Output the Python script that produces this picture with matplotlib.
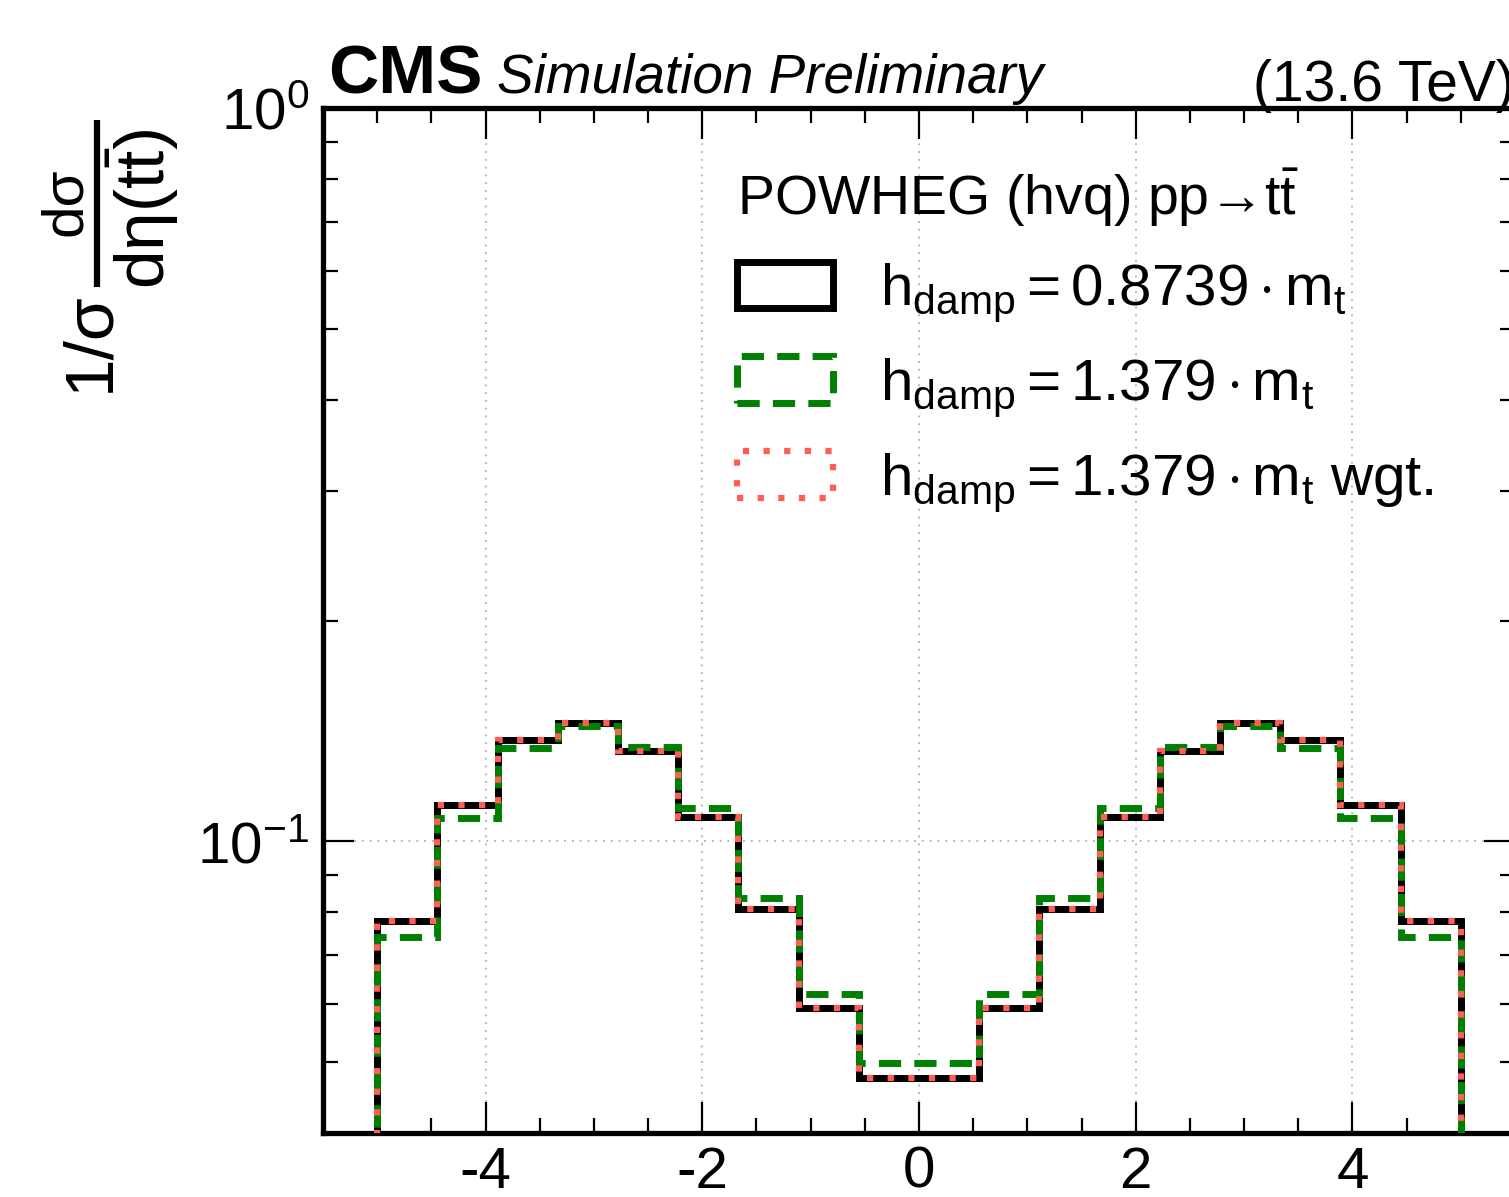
import numpy as np
import matplotlib
matplotlib.use("Agg")
import matplotlib.pyplot as plt
from matplotlib.patches import Patch
from matplotlib.lines import Line2D
from matplotlib.ticker import MultipleLocator, LogLocator, NullFormatter

# =================================================
# Data: normalised eta(ttbar) distribution, 18 bins from -5 to 5
# =================================================
bin_edges = np.linspace(-5, 5, 19)

hdamp_0p8739 = [0.0778, 0.1120, 0.1373, 0.1449, 0.1327, 0.1078, 0.0808, 0.0592, 0.0476,
                0.0476, 0.0592, 0.0808, 0.1078, 0.1327, 0.1449, 0.1373, 0.1120, 0.0778]
hdamp_1p379 = [0.0740, 0.1075, 0.1339, 0.1436, 0.1343, 0.1109, 0.0836, 0.0618, 0.0499,
               0.0499, 0.0618, 0.0836, 0.1109, 0.1343, 0.1436, 0.1339, 0.1075, 0.0740]
hdamp_1p379_wgt = [0.0778, 0.1120, 0.1373, 0.1449, 0.1327, 0.1078, 0.0808, 0.0592, 0.0476,
                   0.0476, 0.0592, 0.0808, 0.1078, 0.1327, 0.1449, 0.1373, 0.1120, 0.0778]

labels = [r"$\mathrm{h_{damp} = 0.8739 \cdot m_{t}}$",
          r"$\mathrm{h_{damp} = 1.379 \cdot m_{t}}$",
          r"$\mathrm{h_{damp} = 1.379 \cdot m_{t}}$ wgt."]
legend_title = "POWHEG (hvq) pp\u2192t$\\mathrm{\\bar{t}}$"

# =================================================
# Style
# =================================================
plt.rcParams["font.family"] = ["Liberation Sans", "DejaVu Sans"]
plt.rcParams["mathtext.fontset"] = "custom"
plt.rcParams["mathtext.rm"] = "Liberation Sans"
plt.rcParams["mathtext.it"] = "Liberation Sans:italic"
plt.rcParams["mathtext.bf"] = "Liberation Sans:bold"
plt.rcParams["axes.unicode_minus"] = False
plt.rcParams["font.size"] = 42

W, H = 1509, 1197
fig = plt.figure(figsize=(W / 100, H / 100), dpi=100)
ax_l, ax_r, ax_t, ax_b = 323, 1515, 108, 1133
ax = fig.add_axes([ax_l / W, (H - ax_b) / H, (ax_r - ax_l) / W, (ax_b - ax_t) / H])

lw = 5.0
styles = [dict(color="black", lw=lw, linestyle="-"),
          dict(color="green", lw=lw, linestyle=(0, (3.2, 1.9))),
          dict(color="#ff5e57", lw=lw * 0.9, linestyle=(0, (1.0, 2.3)))]
series = [hdamp_0p8739, hdamp_1p379, hdamp_1p379_wgt]

for i, (vals, st) in enumerate(zip(series, styles)):
    ax.stairs(vals, bin_edges, baseline=1e-4, zorder=3 + i, **st)

ax.set_yscale("log")
ax.set_xlim(-5.5, 5.5)
ax.set_ylim(0.04, 1.0)

ax.xaxis.set_major_locator(MultipleLocator(2))
ax.xaxis.set_minor_locator(MultipleLocator(0.5))
ax.yaxis.set_major_locator(LogLocator(base=10))
ax.yaxis.set_minor_locator(LogLocator(base=10, subs=np.arange(2, 10)))
ax.yaxis.set_minor_formatter(NullFormatter())

ax.tick_params(which="both", direction="in", top=True, right=True, width=1.6)
ax.tick_params(which="major", length=22, pad=12)
ax.tick_params(axis="x", which="major", pad=9)
ax.tick_params(axis="y", which="major", pad=10)
ax.tick_params(which="minor", length=11)
for s in ax.spines.values():
    s.set_linewidth(3.8)

ax.grid(True, which="major", linestyle=(0, (1, 3)), color="#b8b8b8", lw=1.4, zorder=0)

# legend with open boxes
handles = [Patch(facecolor="none", edgecolor=st["color"], linewidth=st["lw"],
                 linestyle=st["linestyle"]) for st in styles]
leg = ax.legend(handles, labels, loc="upper left", bbox_to_anchor=(0.323, 0.971),
                frameon=False, title=legend_title, title_fontsize=40, fontsize=42,
                handlelength=1.65, handleheight=0.85, handletextpad=0.8,
                labelspacing=0.55, borderpad=0, alignment="left")

# y label, ROOT-style: 1/sigma dsigma / deta(ttbar), built from pieces
def fx(px):
    return px / W

def fy(py):
    return (H - py) / H

lab_kw = dict(rotation=90, rotation_mode="anchor", va="baseline")
fig.text(fx(108), fy(392), "1/\u03c3", ha="left", fontsize=50, **lab_kw)
fig.text(fx(81), fy(202), "d\u03c3", ha="center", fontsize=42, **lab_kw)
fig.text(fx(165), fy(289), "d\u03b7(t$\\mathrm{\\bar{t}}$)", ha="left", fontsize=50, **lab_kw)
fig.add_artist(Line2D([fx(97), fx(97)], [fy(120), fy(287)], transform=fig.transFigure,
                      color="black", lw=4.5, solid_capstyle="butt"))

# CMS labels
ax.text(0.004, 1.0146, "CMS", transform=ax.transAxes, fontsize=50,
        fontweight="bold", ha="left", va="baseline")
ax.text(0.146, 1.0146, "Simulation Preliminary", transform=ax.transAxes,
        fontsize=39.5, fontstyle="italic", ha="left", va="baseline")
ax.text(1.0, 1.0068, "(13.6 TeV)", transform=ax.transAxes, fontsize=41,
        ha="right", va="baseline")

fig.savefig("out.png", dpi=100)
